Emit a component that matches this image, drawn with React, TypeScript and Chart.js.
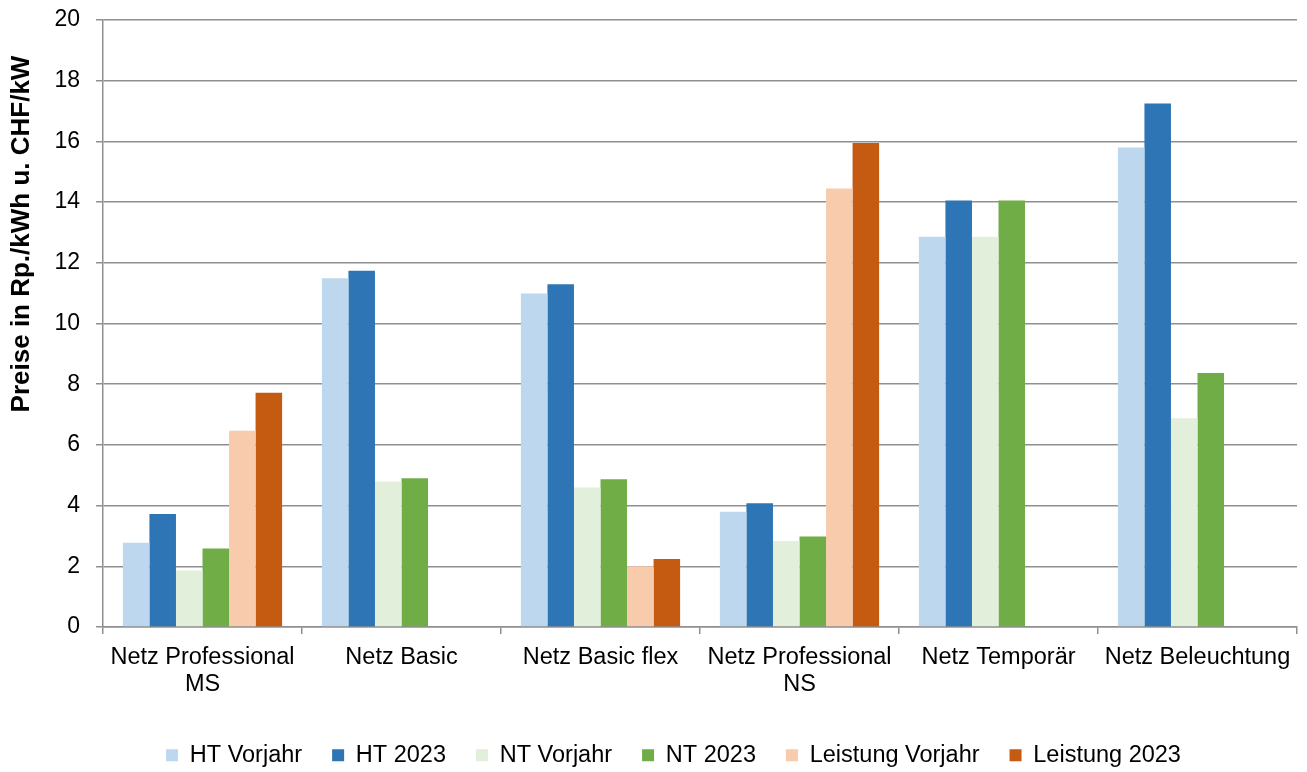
import React, { useEffect, useRef } from 'react';
import { Chart, registerables } from 'chart.js';

Chart.register(...registerables);

const categories: (string | string[])[] = [
  ['Netz Professional', 'MS'],
  'Netz Basic',
  'Netz Basic flex',
  ['Netz Professional', 'NS'],
  'Netz Temporär',
  'Netz Beleuchtung',
];

const seriesNames = ['HT Vorjahr', 'HT 2023', 'NT Vorjahr', 'NT 2023', 'Leistung Vorjahr', 'Leistung 2023'];
const htVorjahr = [2.78, 11.49, 10.99, 3.8, 12.86, 15.8];
const ht2023 = [3.72, 11.74, 11.29, 4.08, 14.05, 17.25];
const ntVorjahr = [1.86, 4.79, 4.6, 2.83, 12.86, 6.88];
const nt2023 = [2.59, 4.9, 4.87, 2.98, 14.05, 8.37];
const leistungVorjahr = [6.47, null, 2.0, 14.45, null, null];
const leistung2023 = [7.72, null, 2.24, 15.95, null, null];

const seriesColors = ['#BDD7EE', '#2E75B6', '#E2EFDA', '#70AD47', '#F8CBAD', '#C55A11'];
const yAxisTitle = 'Preise in Rp./kWh u. CHF/kW';
const yMin = 0;
const yMax = 20;
const yStep = 2;

const FONT = '"Liberation Sans", Arial, sans-serif';
const GRID = '#8f8f8f';

const yTitlePlugin = {
  id: 'yTitlePlugin',
  afterLayout(chart: any) {
    if (chart.legend) {
      chart.legend.top += 5;
      chart.legend.bottom += 5;
    }
  },
  afterDraw(chart: any) {
    const ctx = chart.ctx;
    ctx.save();
    ctx.translate(22, 234);
    ctx.rotate(-Math.PI / 2);
    ctx.font = `bold 26px ${FONT}`;
    ctx.fillStyle = '#000';
    ctx.textAlign = 'center';
    ctx.textBaseline = 'middle';
    ctx.fillText(yAxisTitle, 0, 0);
    ctx.restore();
  },
};

export default function App() {
  const ref = useRef<HTMLCanvasElement | null>(null);

  useEffect(() => {
    if (!ref.current) return;
    const allSeries = [htVorjahr, ht2023, ntVorjahr, nt2023, leistungVorjahr, leistung2023];
    const chart = new Chart(ref.current, {
      type: 'bar',
      data: {
        labels: categories,
        datasets: allSeries.map((d, i) => ({
          label: seriesNames[i],
          data: d,
          backgroundColor: seriesColors[i],
          borderWidth: 0,
          categoryPercentage: 0.8,
          barPercentage: 1.0,
        })),
      },
      options: {
        responsive: false,
        animation: false,
        layout: { padding: { left: 50, right: 10, top: 20, bottom: 0 } },
        plugins: {
          tooltip: { enabled: false },
          legend: {
            position: 'bottom',
            labels: {
              boxWidth: 12,
              boxHeight: 12,
              padding: 30,
              color: '#000',
              font: { family: FONT, size: 23.5 },
            },
          },
        },
        scales: {
          x: {
            grid: {
              offset: true,
              drawOnChartArea: false,
              drawTicks: true,
              tickLength: 7,
              color: GRID,
              lineWidth: 1.5,
            },
            border: { display: true, color: GRID, width: 1.5 },
            ticks: {
              color: '#000',
              font: { family: FONT, size: 23.5, lineHeight: 27 / 23.5 },
              padding: 10,
              maxRotation: 0,
              autoSkip: false,
            },
            afterFit(scale: any) {
              scale.height = 81.5;
            },
          },
          y: {
            min: yMin,
            max: yMax,
            ticks: {
              stepSize: yStep,
              color: '#000',
              font: { family: FONT, size: 23 },
              padding: 16,
            },
            grid: {
              color: GRID,
              lineWidth: 1.5,
              drawTicks: true,
              tickLength: 7,
            },
            border: { display: true, color: GRID, width: 1.5 },
            afterFit(scale: any) {
              scale.width = 53;
              scale.paddingTop = 0;
              scale.paddingBottom = 0;
            },
          },
        },
      },
      plugins: [yTitlePlugin],
    } as any);
    return () => chart.destroy();
  }, []);

  return (
    <div style={{ position: 'fixed', left: 0, top: 0, width: 1307, height: 772, background: '#fff' }}>
      <canvas ref={ref} width={1307} height={772} />
    </div>
  );
}
